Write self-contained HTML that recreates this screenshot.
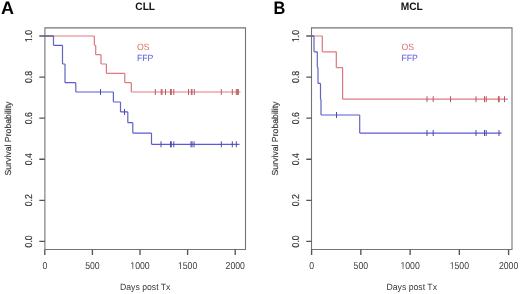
<!DOCTYPE html>
<html><head><meta charset="utf-8"><title>Survival curves</title>
<style>
html,body{margin:0;padding:0;background:#fff;}
body{width:520px;height:294px;overflow:hidden;}
svg{display:block;font-family:"Liberation Sans",sans-serif;text-rendering:geometricPrecision;filter:blur(0.35px);}
</style></head>
<body>
<svg width="520" height="294" viewBox="0 0 520 294">
<rect width="520" height="294" fill="#fff"/>
<defs><clipPath id="f0" clipPathUnits="userSpaceOnUse"><path d="M-40 -30H40V30H-40ZM-5.537 -0.850H-3.902V1H-5.537ZM-3.048 -0.850H-1.459V1H-3.048Z" clip-rule="evenodd"/></clipPath><clipPath id="f1" clipPathUnits="userSpaceOnUse"><path d="M-40 -30H40V30H-40ZM-9.167 -0.850H-7.532V1H-9.167ZM-6.678 -0.850H-5.089V1H-6.678Z" clip-rule="evenodd"/></clipPath><clipPath id="f2" clipPathUnits="userSpaceOnUse"><path d="M-40 -30H40V30H-40ZM-9.167 -0.850H-7.532V1H-9.167ZM-6.678 -0.850H-5.089V1H-6.678Z" clip-rule="evenodd"/></clipPath></defs>
<path d="M44.9 27.9V249.5H245.5V27.9Z" fill="none" stroke="#747474" stroke-width="1.1"/>
<path d="M39.30 241.40H44.90M39.30 200.32H44.90M39.30 159.24H44.90M39.30 118.16H44.90M39.30 77.08H44.90M39.30 36.00H44.90M44.80 249.50V255.00M92.40 249.50V255.00M140.00 249.50V255.00M187.60 249.50V255.00M235.20 249.50V255.00" stroke="#555555" stroke-width="1.35" fill="none"/>
<text transform="translate(32.05,241.40) rotate(-90) scale(1,1.15)" text-anchor="middle" font-size="8.7" fill="#3a3a3a" stroke="#3a3a3a" stroke-width="0.18">0.0</text>
<text transform="translate(32.05,200.32) rotate(-90) scale(1,1.15)" text-anchor="middle" font-size="8.7" fill="#3a3a3a" stroke="#3a3a3a" stroke-width="0.18">0.2</text>
<text transform="translate(32.05,159.24) rotate(-90) scale(1,1.15)" text-anchor="middle" font-size="8.7" fill="#3a3a3a" stroke="#3a3a3a" stroke-width="0.18">0.4</text>
<text transform="translate(32.05,118.16) rotate(-90) scale(1,1.15)" text-anchor="middle" font-size="8.7" fill="#3a3a3a" stroke="#3a3a3a" stroke-width="0.18">0.6</text>
<text transform="translate(32.05,77.08) rotate(-90) scale(1,1.15)" text-anchor="middle" font-size="8.7" fill="#3a3a3a" stroke="#3a3a3a" stroke-width="0.18">0.8</text>
<text transform="translate(32.05,36.00) rotate(-90) scale(1,1.15)" text-anchor="middle" font-size="8.7" fill="#3a3a3a" stroke="#3a3a3a" stroke-width="0.18" clip-path="url(#f0)">1.0</text>
<text transform="translate(44.80,268.50) scale(1,1.15)" text-anchor="middle" font-size="8.7" fill="#3a3a3a">0</text>
<text transform="translate(92.40,268.50) scale(1,1.15)" text-anchor="middle" font-size="8.7" fill="#3a3a3a">500</text>
<text transform="translate(140.00,268.50) scale(1,1.15)" text-anchor="middle" font-size="8.7" fill="#3a3a3a" clip-path="url(#f1)">1000</text>
<text transform="translate(187.60,268.50) scale(1,1.15)" text-anchor="middle" font-size="8.7" fill="#3a3a3a" clip-path="url(#f2)">1500</text>
<text transform="translate(235.20,268.50) scale(1,1.15)" text-anchor="middle" font-size="8.7" fill="#3a3a3a">2000</text>
<text transform="translate(145.20,290.00) scale(1,1.05)" text-anchor="middle" font-size="8.7" fill="#3a3a3a">Days post Tx</text>
<text transform="translate(10.50,138.50) rotate(-90)" text-anchor="middle" font-size="8.7" fill="#3a3a3a" stroke="#3a3a3a" stroke-width="0.18">Survival Probability</text>
<text transform="translate(145.20,9.60) scale(1,1.06)" text-anchor="middle" font-size="10.2" font-weight="bold" fill="#111">CLL</text>
<text transform="translate(1.00,13.5) scale(1,1)" font-size="18" font-weight="bold" fill="#000">A</text>
<text transform="translate(137.00,50.10) scale(1,1.05)" font-size="8.7" fill="#dc6c6c">OS</text>
<text transform="translate(137.00,61.10) scale(1,1.05)" font-size="8.7" fill="#5656d6">FFP</text>
<path d="M311.5 27.9V249.5H512.0V27.9Z" fill="none" stroke="#747474" stroke-width="1.1"/>
<path d="M306.30 241.40H311.50M306.30 200.32H311.50M306.30 159.24H311.50M306.30 118.16H311.50M306.30 77.08H311.50M306.30 36.00H311.50M311.60 249.50V255.00M360.85 249.50V255.00M410.10 249.50V255.00M459.35 249.50V255.00M508.60 249.50V255.00" stroke="#555555" stroke-width="1.35" fill="none"/>
<text transform="translate(299.05,241.40) rotate(-90) scale(1,1.15)" text-anchor="middle" font-size="8.7" fill="#3a3a3a" stroke="#3a3a3a" stroke-width="0.18">0.0</text>
<text transform="translate(299.05,200.32) rotate(-90) scale(1,1.15)" text-anchor="middle" font-size="8.7" fill="#3a3a3a" stroke="#3a3a3a" stroke-width="0.18">0.2</text>
<text transform="translate(299.05,159.24) rotate(-90) scale(1,1.15)" text-anchor="middle" font-size="8.7" fill="#3a3a3a" stroke="#3a3a3a" stroke-width="0.18">0.4</text>
<text transform="translate(299.05,118.16) rotate(-90) scale(1,1.15)" text-anchor="middle" font-size="8.7" fill="#3a3a3a" stroke="#3a3a3a" stroke-width="0.18">0.6</text>
<text transform="translate(299.05,77.08) rotate(-90) scale(1,1.15)" text-anchor="middle" font-size="8.7" fill="#3a3a3a" stroke="#3a3a3a" stroke-width="0.18">0.8</text>
<text transform="translate(299.05,36.00) rotate(-90) scale(1,1.15)" text-anchor="middle" font-size="8.7" fill="#3a3a3a" stroke="#3a3a3a" stroke-width="0.18" clip-path="url(#f0)">1.0</text>
<text transform="translate(311.60,268.50) scale(1,1.15)" text-anchor="middle" font-size="8.7" fill="#3a3a3a">0</text>
<text transform="translate(360.85,268.50) scale(1,1.15)" text-anchor="middle" font-size="8.7" fill="#3a3a3a">500</text>
<text transform="translate(410.10,268.50) scale(1,1.15)" text-anchor="middle" font-size="8.7" fill="#3a3a3a" clip-path="url(#f1)">1000</text>
<text transform="translate(459.35,268.50) scale(1,1.15)" text-anchor="middle" font-size="8.7" fill="#3a3a3a" clip-path="url(#f2)">1500</text>
<text transform="translate(508.60,268.50) scale(1,1.15)" text-anchor="middle" font-size="8.7" fill="#3a3a3a">2000</text>
<text transform="translate(411.75,290.00) scale(1,1.05)" text-anchor="middle" font-size="8.7" fill="#3a3a3a">Days post Tx</text>
<text transform="translate(277.50,138.50) rotate(-90)" text-anchor="middle" font-size="8.7" fill="#3a3a3a" stroke="#3a3a3a" stroke-width="0.18">Survival Probability</text>
<text transform="translate(411.75,9.60) scale(1,1.06)" text-anchor="middle" font-size="10.2" font-weight="bold" fill="#111">MCL</text>
<text transform="translate(273.50,13.5) scale(0.91,1)" font-size="18" font-weight="bold" fill="#000">B</text>
<text transform="translate(401.50,49.80) scale(1,1.05)" font-size="8.7" fill="#dc6c6c">OS</text>
<text transform="translate(401.50,60.80) scale(1,1.05)" font-size="8.7" fill="#5656d6">FFP</text>
<path d="M44.80 36.00H94.30M94.30 45.34H95.70M95.70 54.67H101.00M101.00 64.01H106.40M106.40 73.35H124.80M124.80 82.68H131.30M131.30 92.02H240.50" stroke="#e47a80" stroke-width="1.2" fill="none"/>
<path d="M94.30 36.00V45.34M95.70 45.34V54.67M101.00 54.67V64.01M106.40 64.01V73.35M124.80 73.35V82.68M131.30 82.68V92.02" stroke="#d27a80" stroke-width="1.2" fill="none"/>
<path d="M155.30 89.02V95.02M161.20 89.02V95.02M162.00 89.02V95.02M165.50 89.02V95.02M170.50 89.02V95.02M171.30 89.02V95.02M173.80 89.02V95.02M188.50 89.02V95.02M191.30 89.02V95.02M192.00 89.02V95.02M194.30 89.02V95.02M221.30 89.02V95.02M232.30 89.02V95.02M236.30 89.02V95.02M237.30 89.02V95.02M238.30 89.02V95.02" stroke="#b85a62" stroke-width="1.0" fill="none"/>
<path d="M44.80 36.00H53.50M53.50 45.34H62.50M62.50 64.01H65.00M65.00 82.68H75.80M75.80 92.02H113.40M113.40 101.98H120.50M120.50 111.94H127.80M127.80 122.72H132.80M132.80 133.11H151.50M151.50 144.30H239.50" stroke="#5c58d6" stroke-width="1.2" fill="none"/>
<path d="M53.50 36.00V45.34M62.50 45.34V64.01M65.00 64.01V82.68M75.80 82.68V92.02M113.40 92.02V101.98M120.50 101.98V111.94M127.80 111.94V122.72M132.80 122.72V133.11M151.50 133.11V144.30" stroke="#6464c0" stroke-width="1.2" fill="none"/>
<path d="M100.50 89.02V95.02M124.50 108.94V114.94M161.00 141.30V147.30M170.50 141.30V147.30M171.30 141.30V147.30M173.80 141.30V147.30M191.00 141.30V147.30M192.00 141.30V147.30M194.00 141.30V147.30M221.30 141.30V147.30M232.30 141.30V147.30M236.30 141.30V147.30" stroke="#4a4aa8" stroke-width="1.0" fill="none"/>
<path d="M311.60 36.00H322.30M322.30 51.80H336.30M336.30 67.60H342.60M342.60 99.20H508.00" stroke="#e47a80" stroke-width="1.2" fill="none"/>
<path d="M322.30 36.00V51.80M336.30 51.80V67.60M342.60 67.60V99.20" stroke="#d27a80" stroke-width="1.2" fill="none"/>
<path d="M427.00 96.20V102.20M433.20 96.20V102.20M450.50 96.20V102.20M476.00 96.20V102.20M484.50 96.20V102.20M486.20 96.20V102.20M498.40 96.20V102.20M499.20 96.20V102.20M504.50 96.20V102.20" stroke="#b85a62" stroke-width="1.0" fill="none"/>
<path d="M311.60 36.00H314.00M314.00 51.80H317.30M317.30 67.60H318.00M318.00 83.40H320.50M320.50 99.20H321.00M321.00 115.00H359.70M359.70 133.06H501.50" stroke="#5c58d6" stroke-width="1.2" fill="none"/>
<path d="M314.00 36.00V51.80M317.30 51.80V67.60M318.00 67.60V83.40M320.50 83.40V99.20M321.00 99.20V115.00M359.70 115.00V133.06" stroke="#6464c0" stroke-width="1.2" fill="none"/>
<path d="M336.50 112.00V118.00M427.00 130.06V136.06M433.20 130.06V136.06M476.00 130.06V136.06M484.50 130.06V136.06M486.20 130.06V136.06M499.00 130.06V136.06" stroke="#4a4aa8" stroke-width="1.0" fill="none"/>
<path d="M44.8 36H53.5M311.6 36H314" stroke="#62627e" stroke-width="1.2" fill="none"/>
</svg>
</body></html>
